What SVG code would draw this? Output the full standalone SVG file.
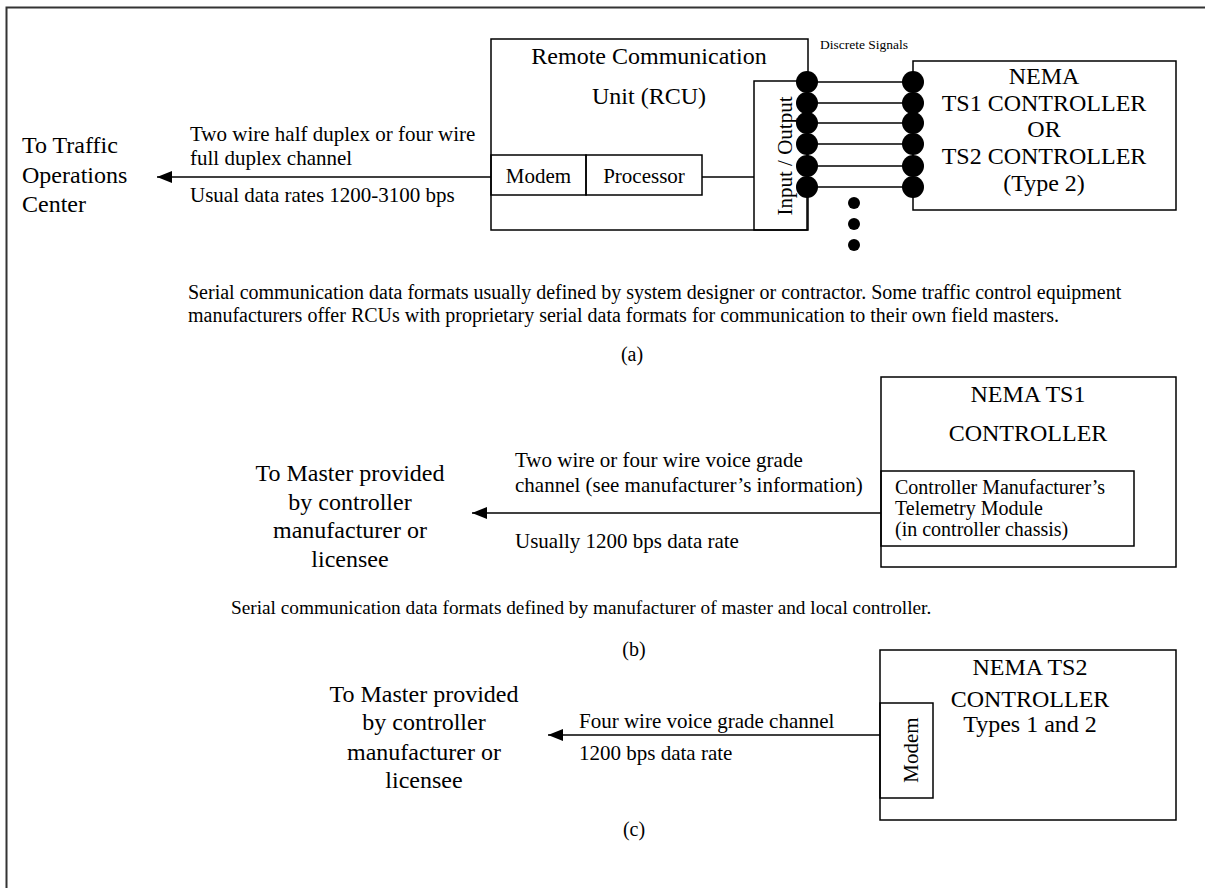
<svg xmlns="http://www.w3.org/2000/svg" width="1205" height="888" viewBox="0 0 1205 888">
<style>
.box{fill:none;stroke:#000;stroke-width:1.5}
.ln{fill:none;stroke:#000;stroke-width:1.5}
text{font-family:"Liberation Serif","Times New Roman",serif;fill:#000}
.big{font-size:24px}
.mid{font-size:21px}
.tm{font-size:20px}
.sm{font-size:20px}
.xs{font-size:13.5px}
.c{text-anchor:middle}
</style>
<defs>
<marker id="arr" markerUnits="userSpaceOnUse" markerWidth="16" markerHeight="12" refX="15" refY="6" orient="auto">
<path d="M0,0 L15,6 L0,12 Z" fill="#000"/>
</marker>
</defs>
<rect x="6.5" y="7.5" width="1300" height="1000" fill="none" stroke="#333" stroke-width="2"/>

<g id="connectors">
<line class="ln" x1="491" y1="177" x2="157" y2="177" marker-end="url(#arr)"/>
<line class="ln" x1="702" y1="177" x2="754" y2="177"/>
<line class="ln" x1="807" y1="82" x2="913" y2="82"/>
<line class="ln" x1="807" y1="103" x2="913" y2="103"/>
<line class="ln" x1="807" y1="123" x2="913" y2="123"/>
<line class="ln" x1="807" y1="144" x2="913" y2="144"/>
<line class="ln" x1="807" y1="166" x2="913" y2="166"/>
<line class="ln" x1="807" y1="187" x2="913" y2="187"/>
<line class="ln" x1="881" y1="513" x2="472" y2="513" marker-end="url(#arr)"/>
<line class="ln" x1="880" y1="735" x2="548" y2="735" marker-end="url(#arr)"/>
</g>

<g id="toc">
<text class="big" x="22" y="153">To Traffic</text>
<text class="big" x="22" y="183">Operations</text>
<text class="big" x="22" y="212">Center</text>
</g>
<g id="label-a">
<text class="mid" x="190" y="141">Two wire half duplex or four wire</text>
<text class="mid" x="190" y="165">full duplex channel</text>
<text class="mid" x="190" y="202">Usual data rates 1200-3100 bps</text>
</g>

<g id="rcu">
<rect class="box" x="491" y="39" width="317" height="191"/>
<text class="big c" x="649" y="64">Remote Communication</text>
<text class="big c" x="649" y="104">Unit (RCU)</text>
</g>
<g id="modem-a">
<rect class="box" x="491" y="155" width="95" height="40"/>
<text class="mid c" x="538.5" y="183">Modem</text>
</g>
<g id="processor">
<rect class="box" x="586" y="155" width="116" height="40"/>
<text class="mid c" x="644" y="183">Processor</text>
</g>
<g id="io">
<rect class="box" x="754" y="81" width="53" height="149"/>
<text class="mid c" transform="translate(792,156) rotate(-90)">Input / Output</text>
</g>

<g id="nema-a">
<rect class="box" x="913" y="61" width="263" height="149"/>
<text class="big c" x="1044" y="84">NEMA</text>
<text class="big c" x="1044" y="111">TS1 CONTROLLER</text>
<text class="big c" x="1044" y="137">OR</text>
<text class="big c" x="1044" y="164">TS2 CONTROLLER</text>
<text class="big c" x="1044" y="191">(Type 2)</text>
</g>

<g id="discrete">
<text class="xs" x="820" y="49">Discrete Signals</text>
<circle cx="807" cy="82" r="11"/>
<circle cx="807" cy="103" r="11"/>
<circle cx="807" cy="123" r="11"/>
<circle cx="807" cy="144" r="11"/>
<circle cx="807" cy="166" r="11"/>
<circle cx="807" cy="187" r="11"/>
<circle cx="913" cy="82" r="11"/>
<circle cx="913" cy="103" r="11"/>
<circle cx="913" cy="123" r="11"/>
<circle cx="913" cy="144" r="11"/>
<circle cx="913" cy="166" r="11"/>
<circle cx="913" cy="187" r="11"/>
<circle cx="854" cy="203" r="6"/>
<circle cx="854" cy="224" r="6"/>
<circle cx="854" cy="245" r="6"/>
</g>

<g id="note-a">
<text class="sm" x="188" y="299">Serial communication data formats usually defined by system designer or contractor. Some traffic control equipment</text>
<text class="sm" x="188" y="322">manufacturers offer RCUs with proprietary serial data formats for communication to their own field masters.</text>
<text class="sm c" x="632" y="361">(a)</text>
</g>

<g id="master-b">
<text class="big c" x="350" y="481">To Master provided</text>
<text class="big c" x="350" y="510">by controller</text>
<text class="big c" x="350" y="538">manufacturer or</text>
<text class="big c" x="350" y="567">licensee</text>
</g>
<g id="label-b">
<text class="mid" x="515" y="467">Two wire or four wire voice grade</text>
<text class="mid" x="515" y="492">channel (see manufacturer’s information)</text>
<text class="mid" x="515" y="548">Usually 1200 bps data rate</text>
</g>
<g id="nema-ts1">
<rect class="box" x="881" y="377" width="295" height="190"/>
<text class="big c" x="1028" y="402">NEMA TS1</text>
<text class="big c" x="1028" y="441">CONTROLLER</text>
</g>
<g id="telemetry">
<rect class="box" x="881" y="471" width="253" height="75"/>
<text class="tm" x="895" y="494">Controller Manufacturer’s</text>
<text class="tm" x="895" y="515">Telemetry Module</text>
<text class="tm" x="895" y="536">(in controller chassis)</text>
</g>
<g id="note-b">
<text class="sm" x="231" y="614" style="font-size:19.3px">Serial communication data formats defined by manufacturer of master and local controller.</text>
<text class="sm c" x="634" y="656">(b)</text>
</g>

<g id="master-c">
<text class="big c" x="424" y="702">To Master provided</text>
<text class="big c" x="424" y="730">by controller</text>
<text class="big c" x="424" y="760">manufacturer or</text>
<text class="big c" x="424" y="788">licensee</text>
</g>
<g id="label-c">
<text class="mid" x="579" y="728">Four wire voice grade channel</text>
<text class="mid" x="579" y="760">1200 bps data rate</text>
</g>
<g id="nema-ts2">
<rect class="box" x="880" y="650" width="296" height="170"/>
<text class="big c" x="1030" y="675">NEMA TS2</text>
<text class="big c" x="1030" y="707">CONTROLLER</text>
<text class="big c" x="1030" y="732">Types 1 and 2</text>
</g>
<g id="modem-c">
<rect class="box" x="880" y="703" width="53" height="95"/>
<text class="mid c" transform="translate(918,750) rotate(-90)">Modem</text>
</g>
<g id="note-c">
<text class="sm c" x="634" y="836">(c)</text>
</g>
</svg>
